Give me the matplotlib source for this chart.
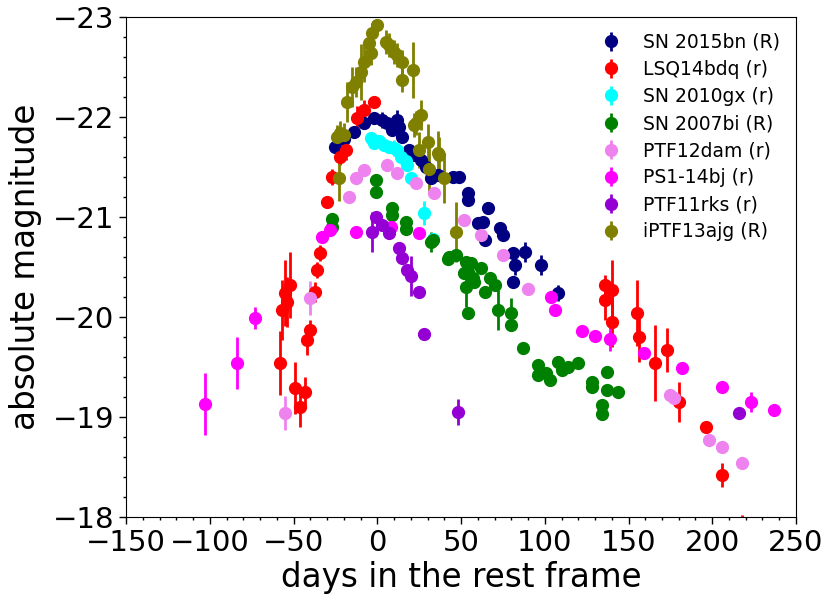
import matplotlib
matplotlib.use("Agg")
import matplotlib.pyplot as plt
from matplotlib.ticker import MultipleLocator

# SN 2015bn (R)
sn15_t = [-25, -20, -14, -8, -2, 3, 6, 9, 12, 13, 15, 19, 22, 26, 29, 32, 36, 45, 49,
          54, 54, 60, 63, 64, 66, 73, 75, 81, 82, 81, 88, 98, 108]
sn15_m = [-21.70, -21.78, -21.85, -21.94, -21.99, -21.97, -21.94, -21.87, -21.97, -21.90,
          -21.80, -21.67, -21.62, -21.57, -21.50, -21.39, -21.42, -21.40, -21.40, -21.24,
          -21.17, -20.94, -20.95, -20.77, -21.09, -20.89, -20.82, -20.64, -20.52, -20.35,
          -20.65, -20.52, -20.24]
sn15_e = [0.05, 0.05, 0.05, 0.05, 0.05, 0.08, 0.05, 0.05, 0.1, 0.05, 0.05, 0.05, 0.05,
          0.05, 0.05, 0.05, 0.05, 0.05, 0.05, 0.05, 0.05, 0.05, 0.05, 0.05, 0.05, 0.05,
          0.05, 0.05, 0.1, 0.05, 0.1, 0.1, 0.08]

# LSQ14bdq (r)
lsq_t = [-58, -57, -55, -54, -52, -49, -46, -43, -42, -40, -37, -36, -34, -30, -27, -22,
         -19, -12, -8, -2, 136, 136, 140, 140, 155, 156, 166, 173, 180, 196, 206, 218]
lsq_m = [-19.54, -20.07, -20.24, -20.15, -20.32, -19.29, -19.10, -19.25, -19.77, -19.87,
         -20.25, -20.47, -20.64, -21.15, -21.40, -21.60, -21.67, -21.99, -22.07, -22.15,
         -20.32, -20.17, -20.27, -19.95, -20.04, -19.80, -19.54, -19.67, -19.15, -18.90,
         -18.42, -17.90]
lsq_e = [0.32, 0.3, 0.33, 0.25, 0.33, 0.26, 0.2, 0.15, 0.15, 0.1, 0.1, 0.08, 0.08, 0.05,
         0.08, 0.08, 0.1, 0.12, 0.1, 0.05, 0.1, 0.2, 0.3, 0.25, 0.33, 0.25, 0.38, 0.22,
         0.2, 0.05, 0.12, 0.12]

# SN 2010gx (r)
sn10_t = [-4, -2, 1, 4, 7, 10, 12, 14, 17, 18, 20, 28, 33]
sn10_m = [-21.79, -21.74, -21.76, -21.72, -21.70, -21.69, -21.67, -21.60, -21.56,
          -21.52, -21.39, -21.04, -20.78]
sn10_e = [0.05, 0.05, 0.05, 0.05, 0.05, 0.08, 0.05, 0.05, 0.05, 0.05, 0.05, 0.12, 0.05]

# SN 2007bi (R)
sn07_t = [-27, -27, -1, -1, 9, 9, 17, 17, 32, 33, 42, 43, 47, 53, 54, 56, 52, 57, 62,
          58, 67, 70, 64, 53, 54, 72, 80, 80, 87, 96, 96, 101, 103, 108, 110, 114, 120,
          128, 128, 137, 137, 144, 134, 134]
sn07_m = [-20.98, -20.90, -21.37, -21.25, -21.09, -21.02, -20.95, -20.88, -20.75,
          -20.77, -20.58, -20.60, -20.62, -20.55, -20.45, -20.54, -20.44, -20.39, -20.49,
          -20.35, -20.39, -20.32, -20.25, -20.30, -20.04, -20.07, -20.04, -19.92, -19.69,
          -19.52, -19.42, -19.44, -19.37, -19.55, -19.47, -19.50, -19.54, -19.35, -19.30,
          -19.45, -19.27, -19.25, -19.12, -19.03]
sn07_e = [0.05, 0.05, 0.05, 0.05, 0.05, 0.05, 0.05, 0.05, 0.1, 0.05, 0.05, 0.05, 0.05,
          0.05, 0.05, 0.05, 0.05, 0.05, 0.05, 0.05, 0.05, 0.05, 0.05, 0.2, 0.05, 0.2,
          0.15, 0.05, 0.05, 0.05, 0.05, 0.05, 0.05, 0.05, 0.05, 0.05, 0.05, 0.05, 0.05,
          0.05, 0.05, 0.05, 0.05, 0.05]

# PTF12dam (r)
ptf12_t = [-55, -40, -17, -13, -8, 6, 12, 23, 34, 52, 62, 75, 90, 175, 177, 198, 206, 218]
ptf12_m = [-19.04, -20.19, -21.20, -21.39, -21.47, -21.52, -21.44, -21.34, -21.24,
           -20.97, -20.82, -20.62, -20.28, -19.22, -19.19, -18.77, -18.70, -18.54]
ptf12_e = [0.17, 0.17, 0.05, 0.05, 0.05, 0.05, 0.05, 0.05, 0.05, 0.05, 0.05, 0.05, 0.05,
           0.05, 0.05, 0.05, 0.05, 0.05]

# PS1-14bj (r)
ps1_t = [-103, -84, -73, -33, -28, -13, 8, 25, 104, 106, 122, 130, 139, 159, 182, 206,
         223, 237]
ps1_m = [-19.13, -19.54, -19.99, -20.80, -20.87, -20.85, -20.90, -20.84, -20.20, -20.07,
         -19.86, -19.81, -19.78, -19.64, -19.49, -19.30, -19.15, -19.07]
ps1_e = [0.31, 0.26, 0.11, 0.05, 0.05, 0.05, 0.05, 0.05, 0.05, 0.05, 0.05, 0.05, 0.12,
         0.05, 0.05, 0.05, 0.1, 0.05]

# PTF11rks (r)
ptf11_t = [-3, -1, 3, 7, 13, 15, 18, 20, 25, 28, 48, 216]
ptf11_m = [-20.85, -21.00, -20.92, -20.84, -20.69, -20.59, -20.47, -20.41, -20.25,
           -19.83, -19.05, -19.04]
ptf11_e = [0.2, 0.05, 0.05, 0.05, 0.05, 0.05, 0.05, 0.2, 0.05, 0.05, 0.13, 0.05]

# iPTF13ajg (R)
iptf_t = [-24, -23, -22, -20, -18, -15, -13, -10, -8, -5, -4, -3, 0, 5, 7, 10, 12, 15, 15,
          21, 23, 26, 22, 25, 30, 31, 37, 36, 40, 47]
iptf_m = [-21.80, -21.39, -21.84, -21.82, -22.15, -22.30, -22.35, -22.45, -22.55, -22.74,
          -22.64, -22.84, -22.92, -22.75, -22.72, -22.65, -22.62, -22.55, -22.37, -22.47,
          -21.94, -22.02, -21.92, -21.67, -21.75, -21.48, -21.62, -21.64, -21.39, -20.85]
iptf_e = [0.12, 0.23, 0.12, 0.12, 0.2, 0.2, 0.15, 0.28, 0.2, 0.12, 0.12, 0.1, 0.05, 0.12,
          0.12, 0.12, 0.12, 0.12, 0.12, 0.28, 0.12, 0.15, 0.12, 0.18, 0.18, 0.22, 0.18,
          0.22, 0.25, 0.3]

series = [
    (sn15_t, sn15_m, sn15_e, 'navy', 'SN 2015bn (R)'),
    (lsq_t, lsq_m, lsq_e, 'red', 'LSQ14bdq (r)'),
    (sn10_t, sn10_m, sn10_e, 'cyan', 'SN 2010gx (r)'),
    (sn07_t, sn07_m, sn07_e, 'green', 'SN 2007bi (R)'),
    (ptf12_t, ptf12_m, ptf12_e, 'violet', 'PTF12dam (r)'),
    (ps1_t, ps1_m, ps1_e, 'magenta', 'PS1-14bj (r)'),
    (ptf11_t, ptf11_m, ptf11_e, 'darkviolet', 'PTF11rks (r)'),
    (iptf_t, iptf_m, iptf_e, 'olive', 'iPTF13ajg (R)'),
]

fig = plt.figure(figsize=(8.3, 6.06), dpi=100)
ax = fig.add_axes([0.152, 0.147, 0.807, 0.825])

for t, m, e, c, lab in series:
    ax.errorbar(t, m, yerr=e, fmt='o', color=c, ms=8.5, elinewidth=2, capsize=0,
                label=lab)

ax.set_xlim(-150, 250)
ax.set_ylim(-18, -23)
ax.xaxis.set_major_locator(MultipleLocator(50))
ax.xaxis.set_minor_locator(MultipleLocator(10))
ax.yaxis.set_major_locator(MultipleLocator(1))
ax.yaxis.set_minor_locator(MultipleLocator(0.2))
ax.tick_params(which='major', labelsize=21, length=5, width=1)
ax.tick_params(which='minor', length=2.5, width=1)
ax.set_xlabel('days in the rest frame', fontsize=23.5, labelpad=3)
ax.set_ylabel('absolute magnitude', fontsize=23.5, labelpad=8)

ax.legend(loc='upper right', frameon=False, fontsize=13.5, handletextpad=0.9,
          handlelength=1.6, labelspacing=0.43, borderaxespad=0.45)

fig.savefig('out.png', dpi=100)
